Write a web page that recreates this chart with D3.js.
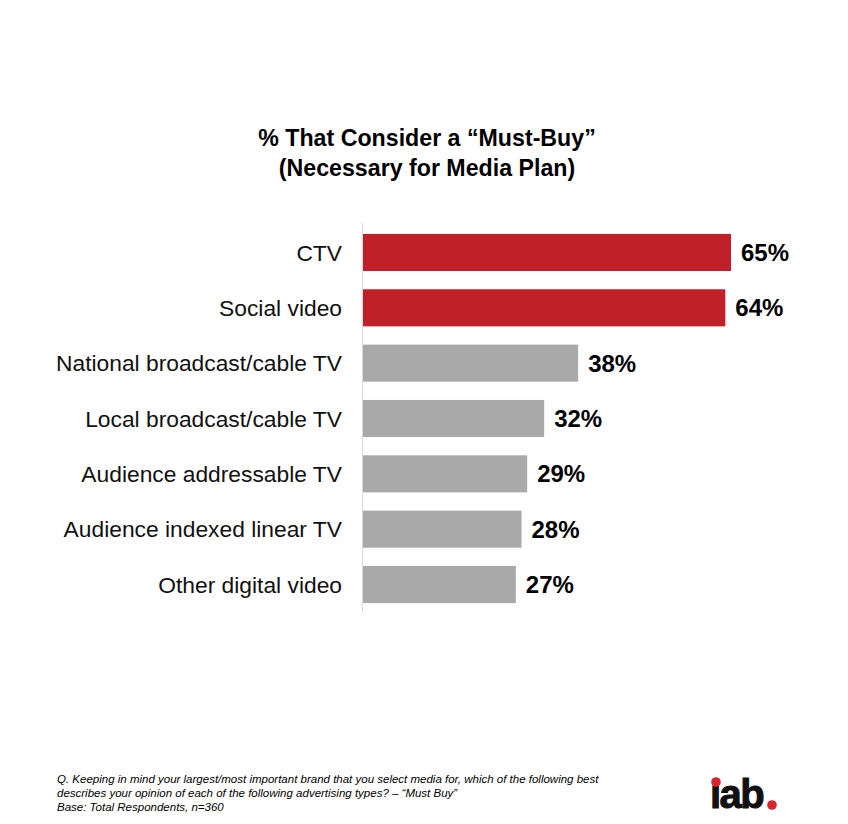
<!DOCTYPE html>
<html><head><meta charset="utf-8">
<script src="https://cdn.jsdelivr.net/npm/d3@7"></script>
<style>body{margin:0;background:#fff}svg{display:block}</style>
</head><body>
<svg id="c" width="848" height="824"></svg>
<script>
const categories = ["CTV","Social video","National broadcast/cable TV","Local broadcast/cable TV","Audience addressable TV","Audience indexed linear TV","Other digital video"];
const values = [65,64,38,32,29,28,27];
const highlight = [true,true,false,false,false,false,false];
const titleLines = ["% That Consider a \u201cMust-Buy\u201d","(Necessary for Media Plan)"];
const footLines = ["Q. Keeping in mind your largest/most important brand that you select media for, which of the following best","describes your opinion of each of the following advertising types? \u2013 \u201cMust Buy\u201d","Base: Total Respondents, n=360"];

const svg = d3.select("#c");
const font = "'Liberation Sans', Arial, Helvetica, sans-serif";
const x = d3.scaleLinear().domain([0,65]).range([363,731]);
const y = d3.scaleBand().domain(categories).range([224.8,612.2]).paddingInner(0.33).paddingOuter(0.165);

svg.append("g").selectAll("text").data(titleLines).join("text")
  .attr("x",427).attr("y",(d,i)=>146+i*30).attr("text-anchor","middle")
  .attr("font-family",font).attr("font-weight","bold").attr("font-size",23.2).attr("fill","#000").text(d=>d);

svg.append("line").attr("x1",362.5).attr("x2",362.5).attr("y1",223).attr("y2",612).attr("stroke","#d9d9d9").attr("stroke-width",1);

svg.append("g").selectAll("rect").data(categories).join("rect")
  .attr("x",x(0)).attr("y",d=>y(d)).attr("height",y.bandwidth())
  .attr("width",(d,i)=>x(values[i])-x(0))
  .attr("fill",(d,i)=>highlight[i]?"#c0202a":"#a9a9a9");

svg.append("g").selectAll("text").data(categories).join("text")
  .attr("x",342).attr("y",d=>y(d)+y.bandwidth()/2).attr("dy","0.36em").attr("text-anchor","end")
  .attr("font-family",font).attr("font-size",22.8).attr("fill","#111").text(d=>d);

svg.append("g").selectAll("text").data(categories).join("text")
  .attr("x",(d,i)=>x(values[i])+10).attr("y",d=>y(d)+y.bandwidth()/2).attr("dy","0.36em")
  .attr("font-family",font).attr("font-weight","bold").attr("font-size",24).attr("fill","#000")
  .text((d,i)=>values[i]+"%");

svg.append("g").selectAll("text").data(footLines).join("text")
  .attr("x",57).attr("y",(d,i)=>783+i*14).attr("font-family",font).attr("font-style","italic")
  .attr("font-size",11.5).attr("fill","#000").text(d=>d);

// logo
const logo = svg.append("g");
logo.append("text").attr("x",710).attr("y",808).attr("font-family",font).attr("font-weight","bold")
  .attr("font-size",40).attr("letter-spacing",-1.5).attr("fill","#111").attr("stroke","#111").attr("stroke-width",1).text("\u0131ab");
logo.append("circle").attr("cx",716).attr("cy",782).attr("r",4.8).attr("fill","#d9262e");
logo.append("circle").attr("cx",772).attr("cy",805).attr("r",4.8).attr("fill","#d9262e");
</script>
</body></html>
